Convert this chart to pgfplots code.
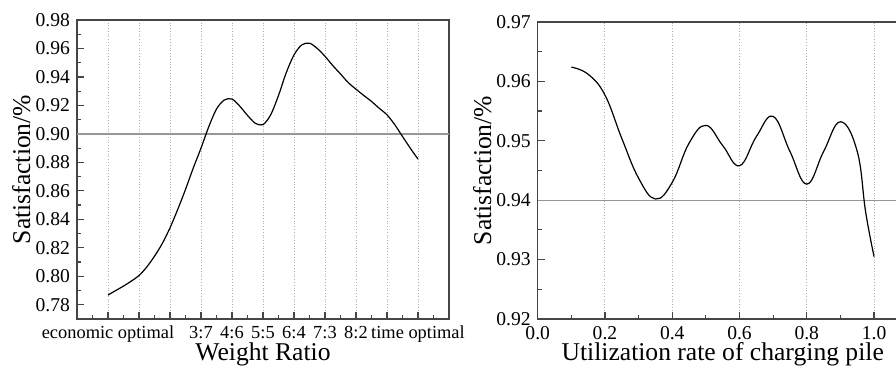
\documentclass[border=0pt]{standalone}
\usepackage{fontspec}
\setmainfont{Liberation Serif}
\usepackage{pgfplots}
\pgfplotsset{compat=1.18}
\definecolor{spine}{RGB}{70,70,70}
\definecolor{hline}{RGB}{150,150,150}
\definecolor{gridc}{RGB}{175,175,175}
\begin{document}
\begin{tikzpicture}
\pgfplotsset{
  every axis/.append style={
    scale only axis,
    axis line style={spine, line width=0.6bp},
    tick align=inside,
    tick pos=left,
    major tick length=3.5bp,
    minor tick length=2bp,
    every tick/.style={spine, line width=0.6bp},
    ticklabel style={font=\fontsize{9.8bp}{12bp}\selectfont},
    label style={font=\fontsize{12.8bp}{15bp}\selectfont},
    xmajorgrids,
    major x grid style={gridc, densely dotted, line width=0.5bp},
    clip=false,
  }
}
\begin{axis}[
  at={(0,0)}, anchor=south west,
  width=186bp, height=149.5bp,
  xmin=0, xmax=12, ymin=0.77, ymax=0.98,
  xtick={1,2,3,4,5,6,7,8,9,10,11},
  xticklabels={economic optimal,,,3:7,4:6,5:5,6:4,7:3,8:2,,time optimal},
  xticklabel style={font=\fontsize{9.2bp}{11bp}\selectfont},
  minor xtick={0.5,1.5,...,11.5},
  ytick={0.78,0.80,0.82,0.84,0.86,0.88,0.90,0.92,0.94,0.96,0.98},
  yticklabels={0.78,0.80,0.82,0.84,0.86,0.88,0.90,0.92,0.94,0.96,0.98},
  minor ytick={0.77,0.79,0.81,0.83,0.85,0.87,0.89,0.91,0.93,0.95,0.97},
  xlabel={Weight Ratio},
  ylabel={Satisfaction/\%},
  xlabel style={at={(axis description cs:0.5,-0.12)}, anchor=center},
  ylabel style={at={(axis description cs:-0.15,0.5)}, anchor=center},
]
\addplot[hline, line width=0.6bp, forget plot] coordinates {(0,0.90) (12,0.90)};
\addplot[black, line width=0.6bp, smooth] coordinates {
(1,0.7868) (1.25,0.7900) (1.5,0.7931) (1.75,0.7966) (2,0.8005) (2.25,0.8065)
(2.5,0.8141) (2.75,0.8230) (3,0.8340) (3.25,0.8470) (3.5,0.8610) (3.75,0.8760)
(4,0.8900) (4.25,0.9050) (4.5,0.9175) (4.75,0.9238) (5,0.9245) (5.25,0.9195)
(5.5,0.9130) (5.75,0.9075) (6,0.9065) (6.25,0.9135) (6.5,0.9270) (6.75,0.9430)
(7,0.9555) (7.25,0.9625) (7.5,0.9637) (7.75,0.9600) (8,0.9545) (8.25,0.9480)
(8.5,0.9421) (8.75,0.9360) (9,0.9314) (9.25,0.9270) (9.5,0.9228) (9.75,0.9180)
(10,0.9134) (10.25,0.9065) (10.5,0.8982) (10.75,0.8900) (11,0.8823)};
\end{axis}
\begin{axis}[
  at={(230.35bp,0)}, anchor=south west,
  width=185bp, height=148.5bp,
  xmin=0, xmax=1.1, ymin=0.92, ymax=0.97,
  xtick={0,0.2,0.4,0.6,0.8,1.0},
  xticklabels={0.0,0.2,0.4,0.6,0.8,1.0},
  minor xtick={0.1,0.3,0.5,0.7,0.9},
  ytick={0.92,0.93,0.94,0.95,0.96,0.97},
  yticklabels={0.92,0.93,0.94,0.95,0.96,0.97},
  minor ytick={0.925,0.935,0.945,0.955,0.965},
  xlabel={Utilization rate of charging pile},
  ylabel={Satisfaction/\%},
  xlabel style={at={(axis description cs:0.5,-0.12)}, anchor=center},
  ylabel style={at={(axis description cs:-0.15,0.5)}, anchor=center},
]
\addplot[hline, line width=0.6bp, forget plot] coordinates {(0,0.94) (1.1,0.94)};
\addplot[black, line width=0.6bp, smooth, tension=0.7] coordinates {
(0.10,0.9624) (0.15,0.9612) (0.20,0.9577) (0.25,0.9504) (0.30,0.9437) (0.35,0.9402)
(0.40,0.9430) (0.45,0.9496) (0.50,0.9526) (0.55,0.9492) (0.60,0.9458) (0.65,0.9507)
(0.70,0.9541) (0.75,0.9482) (0.80,0.9427) (0.85,0.9482) (0.90,0.9532) (0.95,0.9482)
(0.975,0.9380) (1.0,0.9305)};
\end{axis}
\pgfresetboundingbox
\useasboundingbox (-38.5bp,-26.5bp) rectangle (409.5bp,159.5bp);
\end{tikzpicture}
\end{document}
